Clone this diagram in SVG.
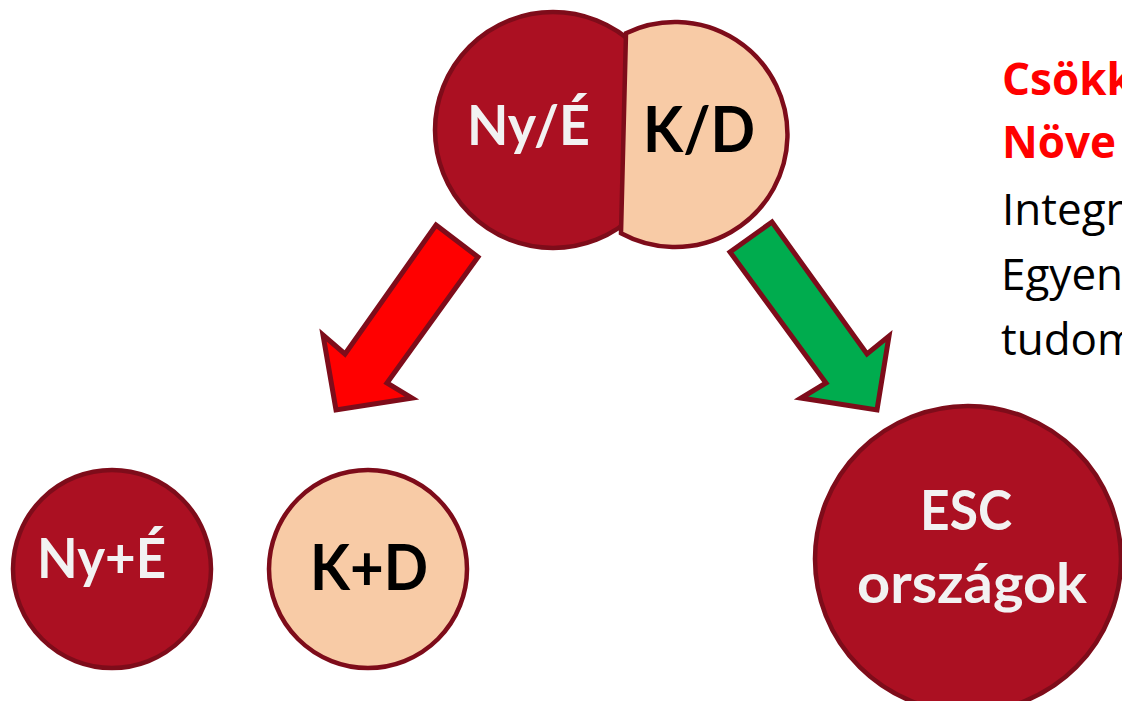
<svg xmlns="http://www.w3.org/2000/svg" width="1122" height="701" viewBox="0 0 1122 701">
<defs>
<style>
.dark{fill:#AB1022;stroke:#7E0C1A;stroke-width:4.5}
.peach{fill:#F8CBA6;stroke:#7E0C1A;stroke-width:4.5}
.arrow{stroke:#7E0C1A;stroke-width:5;stroke-linejoin:miter}
.lbl{font-family:Lato,"Open Sans","Liberation Sans",sans-serif;font-weight:bold;text-anchor:middle}
.w{fill:#F2F2F2}
.b{fill:#000000}
.side{font-family:"Open Sans",Lato,"Liberation Sans",sans-serif;font-size:44px}
.red{fill:#FF0000;font-weight:bold}
</style>
</defs>
<rect width="1122" height="701" fill="#FFFFFF"/>
<g id="connectors">
<polygon class="arrow" fill="#FF0000" points="436,225 478,257 387,383 412,398 336,410 323,335 345,354"/>
<polygon class="arrow" fill="#00AC4E" points="772,222 730,252 826,383 801,398 877,410 889,336 867,354"/>
</g>
<g id="node-top">
<circle class="dark" cx="553" cy="130" r="118"/>
<path class="peach" d="M626,33.2 A112.5,112.5 0 1 1 621,233.2 Z"/>
<text class="lbl w" x="528.5" y="145" font-size="56" textLength="123" lengthAdjust="spacingAndGlyphs">Ny/É</text>
<text class="lbl b" x="699" y="152" font-size="63" textLength="112" lengthAdjust="spacingAndGlyphs">K/D</text>
</g>
<g id="node-nye">
<circle class="dark" cx="112" cy="569" r="99"/>
<text class="lbl w" x="101.5" y="578" font-size="56" textLength="129" lengthAdjust="spacingAndGlyphs">Ny+É</text>
</g>
<g id="node-kd">
<circle class="peach" cx="368" cy="569" r="99"/>
<text class="lbl b" x="369" y="590" font-size="63" textLength="118" lengthAdjust="spacingAndGlyphs">K+D</text>
</g>
<g id="node-esc">
<circle class="dark" cx="968" cy="559" r="153"/>
<text class="lbl w" x="966" y="530" font-size="56" textLength="92" lengthAdjust="spacingAndGlyphs">ESC</text>
<text class="lbl w" x="972" y="603" font-size="56" textLength="230" lengthAdjust="spacingAndGlyphs">országok</text>
</g>
<g id="side-text">
<text class="side red" x="1002" y="95">Csökk</text>
<text class="side red" x="1002" y="158">Növe</text>
<text class="side" x="1002" y="225">Integr</text>
<text class="side" x="1001" y="290">Egyen</text>
<text class="side" x="1001" y="355">tudom</text>
</g>
</svg>
